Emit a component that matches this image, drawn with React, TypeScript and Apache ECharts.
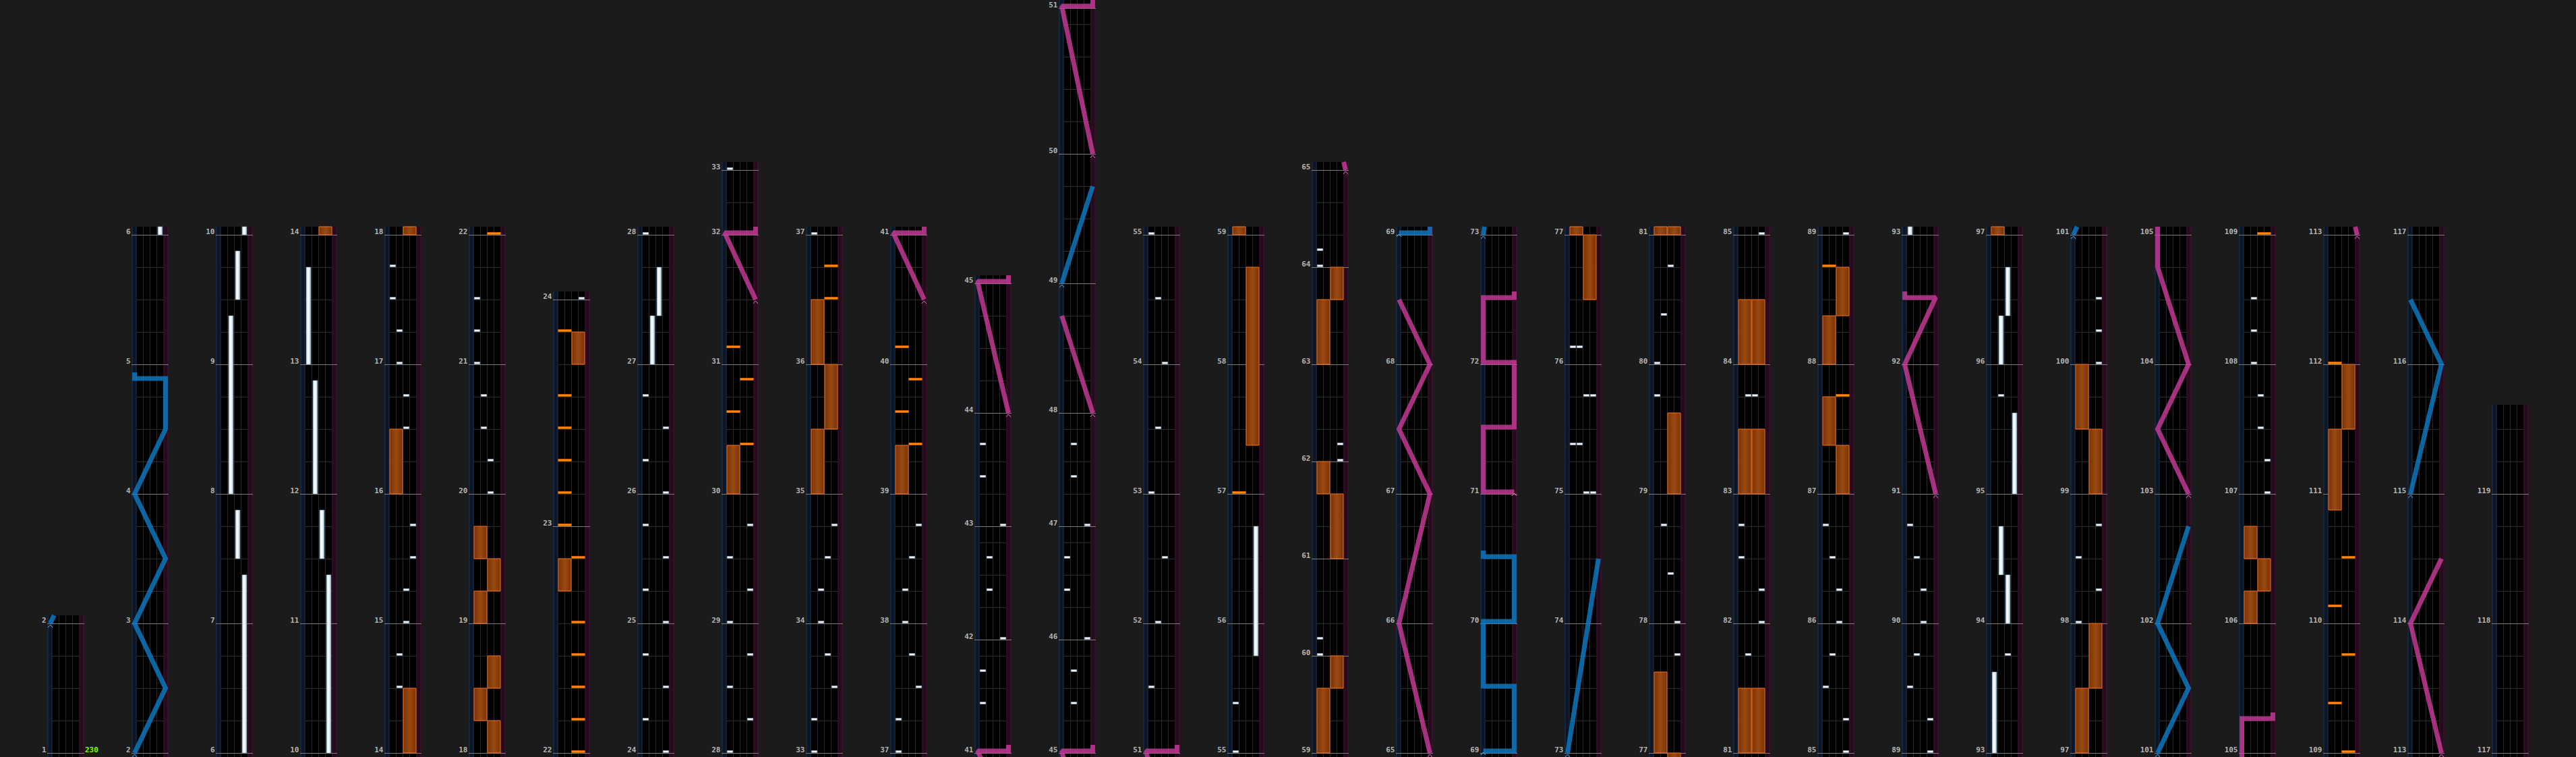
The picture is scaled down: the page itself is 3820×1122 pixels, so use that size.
import { useEffect, useRef } from 'react'
import * as echarts from 'echarts'

// first measure of every column, left to right
const columnStarts = [1, 2, 6, 10, 14, 18, 22, 24, 28, 33, 37, 41, 45, 51, 55, 59, 65, 69, 73, 77, 81, 85, 89, 93, 97, 101, 105, 109, 113, 117]
const lastMeasure = 119
// measures that are not 4 beats long: [measure, beats]
const oddMeasures = [
  [22, 7], [23, 7], [32, 2], [41, 3.5], [42, 3.5], [43, 3.5], [45, 3.5], [46, 3.5], [47, 3.5], [50, 4.5],
  [59, 3], [60, 3], [61, 3], [62, 3], [63, 3], [64, 3], [119, 2.5],
]
// bpm markers: [column, beat, text]
const bpmMarks: [number, number, string][] = [[1, 0, '230']]

// BT chips: [column, beat in column, lane 0-3]
const btChips = [
  [5, 2, 1], [5, 3, 1], [5, 4, 2], [5, 5, 2], [5, 6, 3], [5, 7, 3], [5, 10, 2], [5, 11, 2], [5, 12, 1], [5, 13, 1], [5, 14, 0], [5, 15, 0],
  [6, 8, 2], [6, 9, 2], [6, 10, 1], [6, 11, 1], [6, 12, 0], [6, 13, 0], [6, 14, 0],
  [8, 0, 3], [8, 1, 0], [8, 2, 3], [8, 3, 0], [8, 4, 3], [8, 5, 0], [8, 6, 3], [8, 7, 0], [8, 8, 3], [8, 9, 0], [8, 10, 3], [8, 11, 0],
  [9, 0, 0], [9, 1, 3], [9, 2, 0], [9, 3, 3], [9, 4, 0], [9, 5, 3], [9, 6, 0], [9, 7, 3],
  [10, 0, 0], [10, 1, 0], [10, 2, 3], [10, 3, 2], [10, 4, 1], [10, 5, 1], [10, 6, 2], [10, 7, 3],
  [11, 0, 0], [11, 1, 0], [11, 2, 3], [11, 3, 2], [11, 4, 1], [11, 5, 1], [11, 6, 2], [11, 7, 3],
  [12, 1.5, 0], [12, 2.5, 0], [12, 3.5, 3], [12, 5, 1], [12, 6, 1], [12, 7, 3], [12, 8.5, 0], [12, 9.5, 0],
  [13, 1.5, 1], [13, 2.5, 1], [13, 3.5, 3], [13, 5, 0], [13, 6, 0], [13, 7, 3], [13, 8.5, 1], [13, 9.5, 1],
  [14, 2, 0], [14, 4, 1], [14, 6, 2], [14, 8, 0], [14, 10, 1], [14, 12, 2], [14, 14, 1],
  [15, 0, 0], [15, 1.5, 0],
  [16, 3, 0], [16, 3.5, 0], [16, 9, 3], [16, 9.5, 3], [16, 15, 0], [16, 15.5, 0],
  [19, 8, 2], [19, 8, 3], [19, 9.5, 0], [19, 9.5, 1], [19, 11, 2], [19, 11, 3], [19, 12.5, 0], [19, 12.5, 1],
  [20, 3, 3], [20, 4, 3], [20, 5.5, 2], [20, 7, 1], [20, 11, 0], [20, 12, 0], [20, 13.5, 1], [20, 15, 2],
  [21, 3, 1], [21, 4, 3], [21, 5, 3], [21, 6, 0], [21, 7, 0], [21, 11, 1], [21, 11, 2],
  [22, 0, 3], [22, 1, 3], [22, 2, 0], [22, 3, 1], [22, 4, 2], [22, 5, 2], [22, 6, 1], [22, 7, 0],
  [23, 0, 3], [23, 1, 3], [23, 2, 0], [23, 3, 1], [23, 4, 2], [23, 5, 2], [23, 6, 1], [23, 7, 0],
  [24, 3, 2], [24, 11, 1],
  [25, 4, 0], [25, 5, 3], [25, 6, 0], [25, 7, 3], [25, 12, 3], [25, 13, 3], [25, 14, 3],
  [27, 8, 3], [27, 9, 3], [27, 10, 2], [27, 11, 2], [27, 12, 1], [27, 13, 1], [27, 14, 1],
]
// BT holds: [column, start beat, end beat, lane]
const btHolds = [
  [3, 0, 5.5, 3], [3, 6, 7.5, 2], [3, 8, 13.5, 1], [3, 14, 15.5, 2],
  [4, 0, 5.5, 3], [4, 6, 7.5, 2], [4, 8, 11.5, 1], [4, 12, 15, 0],
  [8, 12, 13.5, 1], [8, 13.5, 15, 2],
  [15, 3, 7, 3],
  [24, 0, 2.5, 0], [24, 4, 5.5, 2], [24, 5.5, 7, 1], [24, 8, 10.5, 3], [24, 12, 13.5, 1], [24, 13.5, 15, 2],
]
// FX chips: [column, beat, side 0 = left, 1 = right]
const fxChips = [
  [7, 0, 1], [7, 1, 1], [7, 2, 1], [7, 3, 1], [7, 4, 1], [7, 6, 1], [7, 7, 0], [7, 8, 0], [7, 9, 0], [7, 10, 0], [7, 11, 0], [7, 13, 0],
  [9, 9.5, 1], [9, 10.5, 0], [9, 11.5, 1], [9, 12.5, 0],
  [10, 14, 1], [10, 15, 1],
  [11, 9.5, 1], [11, 10.5, 0], [11, 11.5, 1], [11, 12.5, 0],
  [15, 8, 0],
  [22, 11, 1], [22, 15, 0],
  [28, 0, 1], [28, 1.5, 0], [28, 3, 1], [28, 4.5, 0], [28, 6, 1], [28, 12, 0],
]
// FX holds: [column, start beat, end beat, side]
const fxHolds = [
  [5, 0, 2, 1], [5, 8, 10, 0],
  [6, 0, 1, 1], [6, 1, 2, 0], [6, 2, 3, 1], [6, 4, 5, 0], [6, 5, 6, 1], [6, 6, 7, 0],
  [7, 5, 6, 0], [7, 12, 13, 1],
  [9, 8, 9.5, 0],
  [10, 8, 10, 0], [10, 10, 12, 1], [10, 12, 14, 0],
  [11, 8, 9.5, 0],
  [15, 9.5, 15, 1],
  [16, 0, 2, 0], [16, 2, 3, 1], [16, 6, 8, 1], [16, 8, 9, 0], [16, 12, 14, 0], [16, 14, 15, 1],
  [19, 14, 16, 1],
  [20, 0, 2.5, 0], [20, 8, 10.5, 1],
  [21, 0, 2, 0], [21, 0, 2, 1], [21, 8, 10, 0], [21, 8, 10, 1], [21, 12, 14, 0], [21, 12, 14, 1],
  [22, 8, 9.5, 1], [22, 9.5, 11, 0], [22, 12, 13.5, 0], [22, 13.5, 15, 1],
  [25, 0, 2, 0], [25, 2, 4, 1], [25, 8, 10, 1], [25, 10, 12, 0],
  [27, 4, 5, 0], [27, 5, 6, 1], [27, 6, 7, 0],
  [28, 7.5, 10, 0], [28, 10, 12, 1],
]
// lasers: points [column, beat, position 0 = left edge .. 1 = right edge]
const leftLasers = [
  [[2, 0, 0], [2, 2, 1], [2, 4, 0], [2, 6, 1], [2, 8, 0], [2, 10, 1], [2, 11.5, 1], [2, 11.5, 0], [2, 11.75, 0]],
  [[13, 14.5, 0], [13, 17.5, 1]],
  [[18, 0, 0], [18, 0, 1], [18, 2, 1], [18, 2, 0], [18, 4, 0], [18, 4, 1], [18, 6, 1], [18, 6, 0], [18, 6.25, 0]],
  [[19, 0, 0], [19, 6, 1]],
  [[26, 0, 0], [26, 2, 1], [26, 4, 0], [26, 7, 1]],
  [[29, 8, 0], [29, 12, 1], [29, 14, 0]],
]
const rightLasers = [
  [[9, 14, 1], [9, 16, 0], [9, 16, 1], [9, 16.25, 1]],
  [[11, 14, 1], [11, 16, 0], [11, 16, 1], [11, 16.25, 1]],
  [[12, 10.5, 1], [12, 14.5, 0], [12, 14.5, 1], [12, 14.75, 1]],
  [[13, 10.5, 1], [13, 13.5, 0]],
  [[13, 18.5, 1], [13, 23, 0], [13, 23, 1], [13, 23.25, 1]],
  [[17, 0, 1], [17, 4, 0], [17, 8, 1], [17, 10, 0], [17, 12, 1], [17, 14, 0]],
  [[18, 8, 1], [18, 8, 0], [18, 10, 0], [18, 10, 1], [18, 12, 1], [18, 12, 0], [18, 14, 0], [18, 14, 1], [18, 14.25, 1]],
  [[23, 8, 1], [23, 12, 0], [23, 14, 1], [23, 14, 0], [23, 14.25, 0]],
  [[26, 8, 1], [26, 10, 0], [26, 12, 1], [26, 15, 0], [27, 1, 0], [27, 1, 1], [27, 1.25, 1]],
  [[29, 0, 1], [29, 4, 0], [29, 6, 1]],
]

// x in lane units (10px), y in beats (48px)
const PITCH = 12.5
const LW = 0.75
const X0 = -7.75
const Y_MAX = 1116 / 48

const beatsOf = (m: number) => {
  const o = oddMeasures.find((x) => x[0] === m)
  return o ? o[1] : 4
}
const measureStart: number[] = []
let acc = 0
for (let m = 1; m <= lastMeasure + 1; m++) {
  measureStart[m] = acc
  acc += beatsOf(m)
}
const colStart = columnStarts.map((m) => measureStart[m])
const colEnd = columnStarts.map((_, i) =>
  i + 1 < columnStarts.length ? measureStart[columnStarts[i + 1]] : measureStart[lastMeasure + 1]
)
const colLast = columnStarts.map((_, i) => (i + 1 < columnStarts.length ? columnStarts[i + 1] - 1 : lastMeasure))
// a column shows a little of its neighbours above and below
const ranges = colStart.map((s, i) => [s - 0.25, colEnd[i] + 0.25])

function spanItems(list: number[][]) {
  const out: number[][] = []
  list.forEach(([c, b0, b1, lane]) => {
    const g0 = colStart[c - 1] + b0
    const g1 = colStart[c - 1] + b1
    ranges.forEach(([lo, hi], ci) => {
      const a = Math.max(g0, lo)
      const b = Math.min(g1, hi)
      if (b > a) out.push([ci, a - colStart[ci], b - colStart[ci], lane])
    })
  })
  return out
}
function chipItems(list: number[][]) {
  const out: number[][] = []
  list.forEach(([c, b, lane]) => {
    const t = colStart[c - 1] + b
    ranges.forEach(([lo, hi], ci) => {
      if (t >= lo && t <= hi - 0.07) out.push([ci, t - colStart[ci], lane])
    })
  })
  return out
}

type Pt = [number, number]
interface LaserPiece {
  ci: number
  pts: Pt[]
  color: string
  caret: string
  start: boolean
}
const laserPieces: LaserPiece[] = []
function addLasers(list: number[][][], color: string, caret: string) {
  list.forEach((laser) => {
    const g = laser.map(([c, b, p]) => [colStart[c - 1] + b, p])
    // slams are drawn just above their beat
    const shown: Pt[] = g.map(([t, p], i) => {
      const slam = (i > 0 && g[i - 1][0] === t) || (i < g.length - 1 && g[i + 1][0] === t)
      return [slam ? t + 1 / 16 : t, p]
    })
    ranges.forEach(([lo, hi], ci) => {
      const out: Pt[] = []
      for (let i = 0; i < shown.length - 1; i++) {
        const [t1, p1] = shown[i]
        const [t2, p2] = shown[i + 1]
        if (t2 < lo || t1 > hi) continue
        const at = (t: number) => (t2 === t1 ? p2 : p1 + ((p2 - p1) * (t - t1)) / (t2 - t1))
        const s: Pt = t1 < lo ? [lo, at(lo)] : [t1, p1]
        const e: Pt = t2 > hi ? [hi, at(hi)] : [t2, p2]
        if (!out.length) out.push(s)
        out.push(e)
      }
      if (out.length > 1) {
        laserPieces.push({
          ci,
          pts: out.map(([t, p]) => [t - colStart[ci], p] as Pt),
          color,
          caret,
          start: shown[0][0] >= lo && shown[0][0] <= hi,
        })
      }
    })
  })
}
addLasers(leftLasers, 'rgba(13,130,205,0.78)', '#5fb0ea')
addLasers(rightLasers, 'rgba(212,62,162,0.78)', '#e878c8')

const btHoldItems = spanItems(btHolds)
const fxHoldItems = spanItems(fxHolds)
const btChipItems = chipItems(btChips)
const fxChipItems = chipItems(fxChips)

const labelFont = { fontSize: 11, fontWeight: 'bold', fontFamily: '"DejaVu Sans Mono", monospace' }
const laserX = (p: number) => -LW + 0.46 + p * (4 + 2 * LW - 0.92)

function pointer(api: any, ci: number) {
  return (lane: number, beat: number) => api.coord([ci * PITCH + lane, beat]) as number[]
}
function box(P: (l: number, b: number) => number[], l0: number, l1: number, b0: number, b1: number, style: any) {
  const a = P(l0, b1)
  const b = P(l1, b0)
  return { type: 'rect', shape: { x: a[0], y: a[1], width: b[0] - a[0], height: b[1] - a[1] }, style }
}

function renderColumn(_p: any, api: any) {
  const ci = api.value(0)
  const P = pointer(api, ci)
  const len = colEnd[ci] - colStart[ci]
  const lo = -0.25
  const hi = len + 0.25
  const kids: any[] = []
  const vline = (lane: number, stroke: string) => {
    const a = P(lane, hi)
    const b = P(lane, lo)
    kids.push({ type: 'line', shape: { x1: a[0], y1: a[1], x2: b[0], y2: b[1] }, style: { stroke, lineWidth: 1 } })
  }
  const hline = (l0: number, l1: number, beat: number, stroke: string) => {
    const a = P(l0, beat)
    const b = P(l1, beat)
    kids.push({ type: 'line', shape: { x1: a[0], y1: a[1] + 0.5, x2: b[0], y2: b[1] + 0.5 }, style: { stroke, lineWidth: 1 } })
  }
  kids.push(box(P, -LW, 4 + LW, lo, hi, { fill: '#000' }))
  kids.push(box(P, -LW, 0, lo, hi, { fill: '#0c1626' }))
  kids.push(box(P, 4, 4 + LW, lo, hi, { fill: '#260b1d' }))
  vline(-LW + 0.1, '#1c3452')
  vline(-0.05, '#1a3048')
  vline(4.05, '#3e1432')
  vline(4 + LW - 0.1, '#441638')
  ;[1, 2, 3].forEach((l) => vline(l, '#262626'))
  for (let m = columnStarts[ci]; m <= colLast[ci]; m++) {
    const s = measureStart[m] - colStart[ci]
    for (let k = 1; k < beatsOf(m) - 1e-6; k++) hline(0, 4, s + k, '#2c2c2c')
  }
  for (let m = columnStarts[ci]; m <= colLast[ci] + 1 && m <= lastMeasure; m++) {
    const s = measureStart[m] - colStart[ci]
    hline(-LW, 4 + LW, s, '#7c7c7c')
    const p = P(-LW, s)
    kids.push({
      type: 'text',
      x: p[0] - 1.5,
      y: p[1] + 1,
      style: { text: String(m), fill: '#b4b4b4', align: 'right', verticalAlign: 'bottom', ...labelFont },
    })
  }
  bpmMarks.forEach(([c, b, txt]) => {
    if (c - 1 !== ci) return
    const p = P(4 + LW, b)
    kids.push({
      type: 'text',
      x: p[0] + 1,
      y: p[1] + 1,
      style: { text: txt, fill: '#7cfc00', align: 'left', verticalAlign: 'bottom', ...labelFont },
    })
  })
  return { type: 'group', children: kids }
}

const btHoldFill = new echarts.graphic.LinearGradient(0, 0, 1, 0, [
  { offset: 0, color: '#a9c4d6' },
  { offset: 0.35, color: '#ffffff' },
  { offset: 0.7, color: '#e4eef5' },
  { offset: 1, color: '#86a6bc' },
])
const fxHoldFill = new echarts.graphic.LinearGradient(0, 0, 1, 0, [
  { offset: 0, color: '#7a3306' },
  { offset: 0.5, color: '#9a4a12' },
  { offset: 1, color: '#7a3306' },
])

function renderBtHold(_p: any, api: any) {
  const P = pointer(api, api.value(0))
  const lane = api.value(3)
  return box(P, lane + 0.15, lane + 0.85, api.value(1), api.value(2), { fill: btHoldFill, stroke: '#7d9bb0', lineWidth: 0.6 })
}
function renderFxHold(_p: any, api: any) {
  const P = pointer(api, api.value(0))
  const l = api.value(3) * 2
  return box(P, l + 0.05, l + 1.95, api.value(1), api.value(2), { fill: fxHoldFill, stroke: '#f07020', lineWidth: 1 })
}
function renderChip(fx: boolean) {
  return (_p: any, api: any) => {
    const P = pointer(api, api.value(0))
    const t = api.value(1)
    const l0 = fx ? api.value(2) * 2 + 0.02 : api.value(2) + 0.08
    const l1 = fx ? l0 + 1.96 : l0 + 0.84
    const a = P(l0, t)
    const b = P(l1, t)
    return {
      type: 'rect',
      shape: { x: a[0], y: a[1] - 3.5, width: b[0] - a[0], height: 3 },
      style: fx ? { fill: '#ff8a10', stroke: '#ff6a00', lineWidth: 0.6 } : { fill: '#f2f6fa', stroke: '#8ea4b6', lineWidth: 0.6 },
    }
  }
}
function renderLaser(_p: any, api: any) {
  const piece = laserPieces[api.value(0)]
  const P = pointer(api, piece.ci)
  const points = piece.pts.map(([t, p]) => P(laserX(p), t))
  const kids: any[] = [
    {
      type: 'polyline',
      shape: { points },
      style: { stroke: piece.color, lineWidth: 7, fill: 'none', lineJoin: 'miter', miterLimit: 1.5 },
    },
  ]
  if (piece.start) {
    const [x, y] = points[0]
    kids.push({
      type: 'polyline',
      shape: { points: [[x - 3.5, y + 6], [x, y + 2], [x + 3.5, y + 6]] },
      style: { stroke: piece.caret, lineWidth: 1, fill: 'none' },
    })
  }
  return { type: 'group', children: kids }
}

export default function App() {
  const ref = useRef<HTMLDivElement>(null)

  useEffect(() => {
    if (!ref.current) return
    document.body.style.margin = '0'
    document.body.style.background = '#1b1b1b'
    const chart = echarts.init(ref.current, undefined, { renderer: 'svg' })
    chart.setOption({
      animation: false,
      backgroundColor: '#1b1b1b',
      grid: { left: 0, right: 0, top: 0, bottom: 6 },
      xAxis: { type: 'value', min: X0, max: X0 + 382, show: false },
      yAxis: { type: 'value', min: 0, max: Y_MAX, show: false },
      series: [
        { type: 'custom', name: 'columns', z: 1, silent: true, renderItem: renderColumn, data: columnStarts.map((_, i) => [i, 0]) },
        { type: 'custom', name: 'fx holds', z: 2, silent: true, renderItem: renderFxHold, data: fxHoldItems },
        { type: 'custom', name: 'bt holds', z: 3, silent: true, renderItem: renderBtHold, data: btHoldItems },
        { type: 'custom', name: 'fx chips', z: 4, silent: true, renderItem: renderChip(true), data: fxChipItems },
        { type: 'custom', name: 'bt chips', z: 5, silent: true, renderItem: renderChip(false), data: btChipItems },
        { type: 'custom', name: 'lasers', z: 6, silent: true, renderItem: renderLaser, data: laserPieces.map((_, i) => [i, 0]) },
      ],
    })
    return () => chart.dispose()
  }, [])

  return <div ref={ref} style={{ position: 'fixed', left: 0, top: 0, width: 3820, height: 1122 }} />
}
